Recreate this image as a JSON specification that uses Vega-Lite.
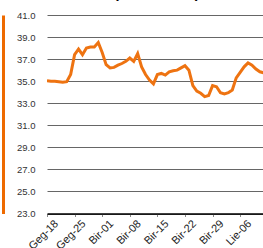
{
  "$schema": "https://vega.github.io/schema/vega-lite/v6.json",
  "autosize": "none",
  "padding": {"left": 47, "top": 15, "right": 0, "bottom": 34},
  "width": 216,
  "height": 198.5,
  "background": "white",
  "title": {
    "text": "Sidabro kaina (SPOT $/OZ)",
    "anchor": "start",
    "frame": "group",
    "dx": -32,
    "offset": 9,
    "font": "Liberation Sans",
    "fontSize": 14.5,
    "fontWeight": "bold",
    "color": "#000000"
  },
  "config": {
    "view": {"stroke": null},
    "font": "Liberation Sans"
  },
  "data": {
    "values": [
      {"date": "2025-05-18", "price": 35.05},
      {"date": "2025-05-19", "price": 35.0},
      {"date": "2025-05-20", "price": 35.0},
      {"date": "2025-05-21", "price": 34.95},
      {"date": "2025-05-22", "price": 34.9},
      {"date": "2025-05-23", "price": 34.95},
      {"date": "2025-05-24", "price": 35.6},
      {"date": "2025-05-25", "price": 37.4},
      {"date": "2025-05-26", "price": 37.9},
      {"date": "2025-05-27", "price": 37.4},
      {"date": "2025-05-28", "price": 38.0},
      {"date": "2025-05-29", "price": 38.1},
      {"date": "2025-05-30", "price": 38.1},
      {"date": "2025-05-31", "price": 38.5},
      {"date": "2025-06-01", "price": 37.6},
      {"date": "2025-06-02", "price": 36.5},
      {"date": "2025-06-03", "price": 36.2},
      {"date": "2025-06-04", "price": 36.25},
      {"date": "2025-06-05", "price": 36.45},
      {"date": "2025-06-06", "price": 36.6},
      {"date": "2025-06-07", "price": 36.8},
      {"date": "2025-06-08", "price": 37.1},
      {"date": "2025-06-09", "price": 36.8},
      {"date": "2025-06-10", "price": 37.5},
      {"date": "2025-06-11", "price": 36.3},
      {"date": "2025-06-12", "price": 35.6},
      {"date": "2025-06-13", "price": 35.1},
      {"date": "2025-06-14", "price": 34.75},
      {"date": "2025-06-15", "price": 35.6},
      {"date": "2025-06-16", "price": 35.7},
      {"date": "2025-06-17", "price": 35.55},
      {"date": "2025-06-18", "price": 35.85},
      {"date": "2025-06-19", "price": 35.95},
      {"date": "2025-06-20", "price": 36.0},
      {"date": "2025-06-21", "price": 36.2},
      {"date": "2025-06-22", "price": 36.4},
      {"date": "2025-06-23", "price": 36.0},
      {"date": "2025-06-24", "price": 34.6},
      {"date": "2025-06-25", "price": 34.1},
      {"date": "2025-06-26", "price": 33.9},
      {"date": "2025-06-27", "price": 33.6},
      {"date": "2025-06-28", "price": 33.7},
      {"date": "2025-06-29", "price": 34.6},
      {"date": "2025-06-30", "price": 34.5},
      {"date": "2025-07-01", "price": 33.95},
      {"date": "2025-07-02", "price": 33.85},
      {"date": "2025-07-03", "price": 33.95},
      {"date": "2025-07-04", "price": 34.2},
      {"date": "2025-07-05", "price": 35.3},
      {"date": "2025-07-06", "price": 35.8},
      {"date": "2025-07-07", "price": 36.3},
      {"date": "2025-07-08", "price": 36.65},
      {"date": "2025-07-09", "price": 36.45},
      {"date": "2025-07-10", "price": 36.1},
      {"date": "2025-07-11", "price": 35.85},
      {"date": "2025-07-12", "price": 35.75}
    ]
  },
  "encoding": {
    "x": {
      "field": "date",
      "type": "temporal",
      "scale": {
        "type": "utc",
        "domain": [
          {"year": 2025, "month": 5, "date": 18, "utc": true},
          {"year": 2025, "month": 7, "date": 11, "hours": 19, "utc": true}
        ]
      },
      "axis": {
        "title": null,
        "values": [
          {"year": 2025, "month": 5, "date": 18, "utc": true},
          {"year": 2025, "month": 5, "date": 25, "utc": true},
          {"year": 2025, "month": 6, "date": 1, "utc": true},
          {"year": 2025, "month": 6, "date": 8, "utc": true},
          {"year": 2025, "month": 6, "date": 15, "utc": true},
          {"year": 2025, "month": 6, "date": 22, "utc": true},
          {"year": 2025, "month": 6, "date": 29, "utc": true},
          {"year": 2025, "month": 7, "date": 6, "utc": true}
        ],
        "labelExpr": "['Sau','Vas','Kov','Bal','Geg','Bir','Lie','Rgp','Rgs','Spa','Lap','Grd'][utcmonth(datum.value)] + '-' + utcFormat(datum.value, '%d')",
        "labelAngle": 315,
        "labelAlign": "right",
        "labelBaseline": "top",
        "labelPadding": 1,
        "labelOffset": 5,
        "labelFontSize": 11,
        "labelColor": "#222222",
        "labelFont": "Liberation Sans",
        "labelOverlap": false,
        "labelBound": false,
        "labelFlush": false,
        "grid": false,
        "domainColor": "#000000",
        "domainWidth": 1.5,
        "tickColor": "#888888",
        "tickSize": 3,
        "tickWidth": 1
      }
    }
  },
  "layer": [
    {
      "mark": {"type": "line", "color": "#EE7311", "strokeWidth": 3, "clip": true},
      "encoding": {
        "y": {
          "field": "price",
          "type": "quantitative",
          "scale": {"domain": [23, 41], "nice": false, "zero": false},
          "axis": {
            "title": null,
            "values": [23, 25, 27, 29, 31, 33, 35, 37, 39, 41],
            "format": ".1f",
            "domain": false,
            "ticks": false,
            "labelPadding": 12,
            "labelFontSize": 9.5,
            "labelColor": "#333333",
            "labelFont": "Liberation Sans",
            "grid": true,
            "gridColor": "#666666",
            "gridWidth": 1
          }
        }
      }
    },
    {
      "mark": {"type": "line", "opacity": 0, "clip": true},
      "encoding": {
        "y": {
          "field": "price",
          "type": "quantitative",
          "scale": {"domain": [23, 41], "nice": false, "zero": false},
          "axis": {
            "title": null,
            "orient": "left",
            "offset": 44,
            "labels": false,
            "ticks": false,
            "grid": false,
            "domain": true,
            "domainColor": "#EE6A00",
            "domainWidth": 3
          }
        }
      }
    }
  ],
  "resolve": {"axis": {"y": "independent"}}
}
